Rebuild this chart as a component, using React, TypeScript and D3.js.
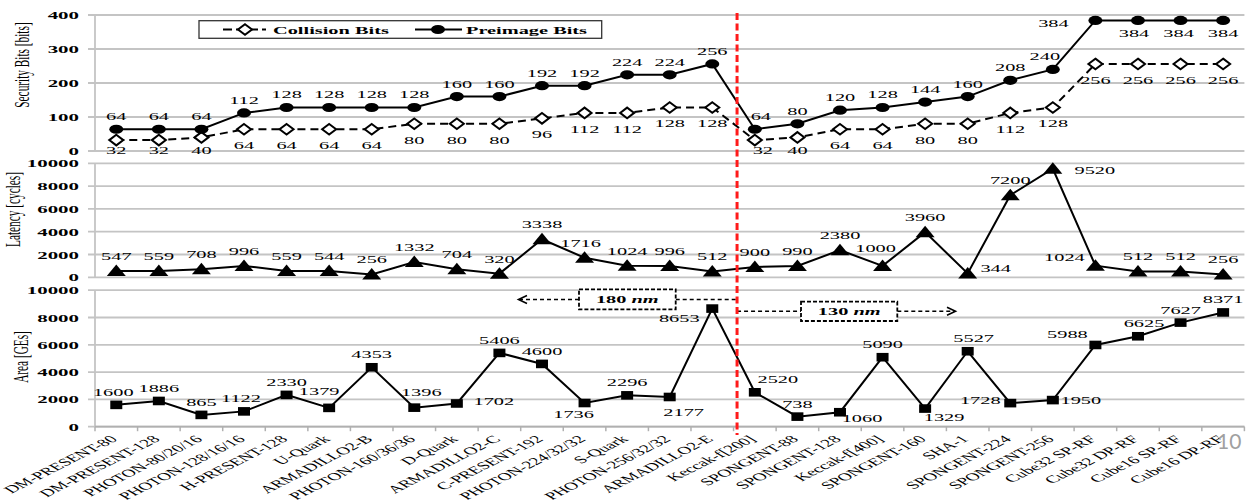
import React from 'react';
import * as d3 from 'd3';

// ---------------- data ----------------
const categories = [
  'DM-PRESENT-80', 'DM-PRESENT-128', 'PHOTON-80/20/16', 'PHOTON-128/16/16', 'H-PRESENT-128',
  'U-Quark', 'ARMADILLO2-B', 'PHOTON-160/36/36', 'D-Quark', 'ARMADILLO2-C', 'C-PRESENT-192',
  'PHOTON-224/32/32', 'S-Quark', 'PHOTON-256/32/32', 'ARMADILLO2-E', 'Keccak-f[200]',
  'SPONGENT-88', 'SPONGENT-128', 'Keccak-f[400]', 'SPONGENT-160', 'SHA-1', 'SPONGENT-224',
  'SPONGENT-256', 'Cube32 SP-RF', 'Cube32 DP-RF', 'Cube16 SP-RF', 'Cube16 DP-RF',
];
const collisionBits = [32, 32, 40, 64, 64, 64, 64, 80, 80, 80, 96, 112, 112, 128, 128, 32, 40, 64, 64, 80, 80, 112, 128, 256, 256, 256, 256];
const preimageBits = [64, 64, 64, 112, 128, 128, 128, 128, 160, 160, 192, 192, 224, 224, 256, 64, 80, 120, 128, 144, 160, 208, 240, 384, 384, 384, 384];
const latency = [547, 559, 708, 996, 559, 544, 256, 1332, 704, 320, 3338, 1716, 1024, 996, 512, 900, 990, 2380, 1000, 3960, 344, 7200, 9520, 1024, 512, 512, 256];
const area = [1600, 1886, 865, 1122, 2330, 1379, 4353, 1396, 1702, 5406, 4600, 1736, 2296, 2177, 8653, 2520, 738, 1060, 5090, 1329, 5527, 1728, 1950, 5988, 6625, 7627, 8371];
const secTicks = [0, 100, 200, 300, 400];
const latTicks = [0, 2000, 4000, 6000, 8000, 10000];
const areaTicks = [0, 2000, 4000, 6000, 8000, 10000];
const splitIndex = 15; // first 130 nm design
const legendLabels = ['Collision Bits', 'Preimage Bits'];
const techLabels = ['180', '130'];

// ---------------- layout (label placement, not data) ----------------
const preLabelPos: Record<number, [number, number]> = {
  15: [6, -9], 22: [-8, -9], 23: [-42, 7], 24: [-4, 17], 25: [-2, 17], 26: [0, 17],
};
const colLabelPos: Record<number, [number, number]> = {
  15: [8, 20],
};
const latLabelPos: Record<number, [number, number]> = {
  11: [-4, -11], 18: [-7, -14], 20: [28, -1], 22: [42, 5.5], 23: [-31, -5],
};
const areaLabelPos: Record<number, [number, number]> = {
  0: [-3, -9], 3: [-3, -9], 5: [-10, -13], 7: [7, -12], 8: [37, 2], 11: [-11, 14.5],
  13: [14, 19], 14: [-33, 13], 15: [23, -9.5], 17: [22, 10], 19: [19, 12.6], 20: [6, -9],
  21: [-30, 1], 22: [28, 4], 23: [-28, -6.5], 24: [6, -9],
};

const SX = 1.85;
const FONT = "'Liberation Serif', 'Times New Roman', serif";
const GRID = '#c4c4c4';
const X0 = 95;
const X1 = 1244.4;

function T(props: any) {
  const { x, y, anchor = 'middle', size = 11, weight = 'normal', rot = 0, fill = '#000', children } = props;
  return (
    <text
      transform={`translate(${x},${y}) scale(${SX},1)` + (rot ? ` rotate(${rot})` : '')}
      textAnchor={anchor}
      fontSize={size}
      fontWeight={weight}
      fontFamily={FONT}
      fill={fill}
    >
      {children}
    </text>
  );
}

export default function App() {
  const x = d3.scaleBand<string>().domain(categories).range([X0, X1]).padding(0);
  const cx = (i: number) => (x(categories[i]) as number) + x.bandwidth() / 2;

  const ySec = d3.scaleLinear().domain([0, 400]).range([151, 15]);
  const yLat = d3.scaleLinear().domain([0, 10000]).range([277.3, 163.3]);
  const yArea = d3.scaleLinear().domain([0, 10000]).range([426.7, 290.2]);

  const mkLine = (vals: number[], y: d3.ScaleLinear<number, number>) =>
    d3.line<number>().x((_, i) => cx(i)).y((d) => y(d))(vals) as string;

  const panel = (ticks: number[], y: d3.ScaleLinear<number, number>, key: string) => (
    <g key={key}>
      {ticks.map((t) => (
        <g key={t}>
          <line x1={88} x2={X1} y1={y(t)} y2={y(t)} stroke={GRID} strokeWidth={1.8} />
          <T x={79} y={y(t) + 4} anchor="end" weight="bold" size={11.3}>{t}</T>
        </g>
      ))}
      <line x1={X0} x2={X0} y1={y(ticks[ticks.length - 1])} y2={y(0)} stroke={GRID} strokeWidth={1.8} />
    </g>
  );

  const diamond = 'M0,-5.3L7,0L0,5.3L-7,0Z';
  const tri = 'M0,-6.5L9.5,5L-9.5,5Z';

  const boundary = (x(categories[splitIndex]) as number) + 3.5;

  return (
    <div style={{ position: 'absolute', left: 0, top: 0 }}>
      <svg width={1260} height={503} style={{ display: 'block', background: '#fff' }}>
        <rect x={0} y={0} width={1260} height={503} fill="#fff" />
        {panel(secTicks, ySec, 'sec')}
        {panel(latTicks, yLat, 'lat')}
        {panel(areaTicks, yArea, 'area')}

        {/* x axis */}
        <line x1={X0} x2={X1} y1={yArea(0)} y2={yArea(0)} stroke="#b0b0b0" strokeWidth={1.8} />
        {d3.range(categories.length + 1).map((i) => {
          const xx = X0 + i * x.bandwidth();
          return <line key={i} x1={xx} x2={xx} y1={yArea(0)} y2={yArea(0) + 4.5} stroke="#b0b0b0" strokeWidth={1.5} />;
        })}
        {categories.map((c, i) => (
          <T key={c} x={cx(i) + 2} y={440} anchor="end" size={10.5} rot={-43}>{c}</T>
        ))}

        {/* y titles */}
        <T x={28.8} y={65} rot={-90} size={11.3}>Security Bits [bits]</T>
        <T x={19.5} y={209.5} rot={-90} size={11.3}>Latency [cycles]</T>
        <T x={27.5} y={357} rot={-90} size={11.3}>Area [GEs]</T>

        {/* security panel */}
        <path d={mkLine(collisionBits, ySec)} fill="none" stroke="#000" strokeWidth={2} strokeDasharray="8,5" />
        <path d={mkLine(preimageBits, ySec)} fill="none" stroke="#000" strokeWidth={2} />
        {collisionBits.map((v, i) => (
          <path key={'c' + i} d={diamond} transform={`translate(${cx(i)},${ySec(v)})`} fill="#fff" stroke="#000" strokeWidth={2} />
        ))}
        {preimageBits.map((v, i) => (
          <ellipse key={'p' + i} cx={cx(i)} cy={ySec(v)} rx={7} ry={4.6} fill="#000" />
        ))}
        {collisionBits.map((v, i) => {
          const [dx, dy] = colLabelPos[i] || [0, 20];
          return <T key={'cl' + i} x={cx(i) + dx} y={Math.min(ySec(v) + dy, 154)}>{v}</T>;
        })}
        {preimageBits.map((v, i) => {
          const [dx, dy] = preLabelPos[i] || [0, -9];
          return <T key={'pl' + i} x={cx(i) + dx} y={ySec(v) + dy}>{v}</T>;
        })}

        {/* legend */}
        <rect x={199} y={20.7} width={402.7} height={17.6} fill="#fff" stroke="#333" strokeWidth={1.3} />
        <line x1={223} x2={266} y1={29.5} y2={29.5} stroke="#000" strokeWidth={2} strokeDasharray="9,4" />
        <path d={diamond} transform="translate(245,29.5)" fill="#fff" stroke="#000" strokeWidth={2} />
        <T x={273} y={33.6} anchor="start" weight="bold">{legendLabels[0]}</T>
        <line x1={415} x2={462} y1={29.5} y2={29.5} stroke="#000" strokeWidth={2} />
        <ellipse cx={438} cy={29.5} rx={7} ry={4.6} fill="#000" />
        <T x={466} y={33.6} anchor="start" weight="bold">{legendLabels[1]}</T>

        {/* latency panel */}
        <path d={mkLine(latency, yLat)} fill="none" stroke="#000" strokeWidth={2} />
        {latency.map((v, i) => (
          <path key={'lt' + i} d={tri} transform={`translate(${cx(i)},${yLat(v)})`} fill="#000" />
        ))}
        {latency.map((v, i) => {
          const [dx, dy] = latLabelPos[i] || [0, -11];
          return <T key={'ll' + i} x={cx(i) + dx} y={yLat(v) + dy}>{v}</T>;
        })}

        {/* area panel */}
        <path d={mkLine(area, yArea)} fill="none" stroke="#000" strokeWidth={2} />
        {area.map((v, i) => (
          <rect key={'as' + i} x={cx(i) - 6} y={yArea(v) - 4.3} width={12} height={8.6} fill="#000" />
        ))}
        {area.map((v, i) => {
          const [dx, dy] = areaLabelPos[i] || [0, -9];
          return <T key={'al' + i} x={cx(i) + dx} y={yArea(v) + dy}>{v}</T>;
        })}

        {/* technology annotations */}
        <g stroke="#000" strokeWidth={1.6} fill="none">
          <line x1={579} x2={520} y1={299.5} y2={299.5} strokeDasharray="4,3" />
          <path d="M527,295.5L518.5,299.5L527,303.5" strokeWidth={1.6} />
          <line x1={675.7} x2={boundary} y1={299.5} y2={299.5} strokeDasharray="4,3" />
          <line x1={boundary} x2={801} y1={311.3} y2={311.3} strokeDasharray="4,3" />
          <line x1={897.3} x2={954} y1={311.3} y2={311.3} strokeDasharray="4,3" />
          <path d="M947,307.3L955.5,311.3L947,315.3" strokeWidth={1.6} />
        </g>
        <rect x={579} y={289.3} width={96.7} height={20} fill="#fff" stroke="#000" strokeWidth={1.8} strokeDasharray="4,2" />
        <rect x={801} y={301.7} width={96.3} height={19.3} fill="#fff" stroke="#000" strokeWidth={1.8} strokeDasharray="4,2" />
        <T x={627.3} y={303.2} weight="bold">
          {techLabels[0] + ' '}<tspan fontStyle="italic">nm</tspan>
        </T>
        <T x={849.2} y={315.2} weight="bold">
          {techLabels[1] + ' '}<tspan fontStyle="italic">nm</tspan>
        </T>

        {/* red divider */}
        <line x1={boundary} x2={boundary} y1={13} y2={435} stroke="#ff1a1a" strokeWidth={3} strokeDasharray="7,3.5" />

        {/* page number */}
        <text x={1217} y={449} fontSize={21} fontFamily="Lato, 'Open Sans', sans-serif" fill="#a0a0a0">10</text>
      </svg>
    </div>
  );
}
